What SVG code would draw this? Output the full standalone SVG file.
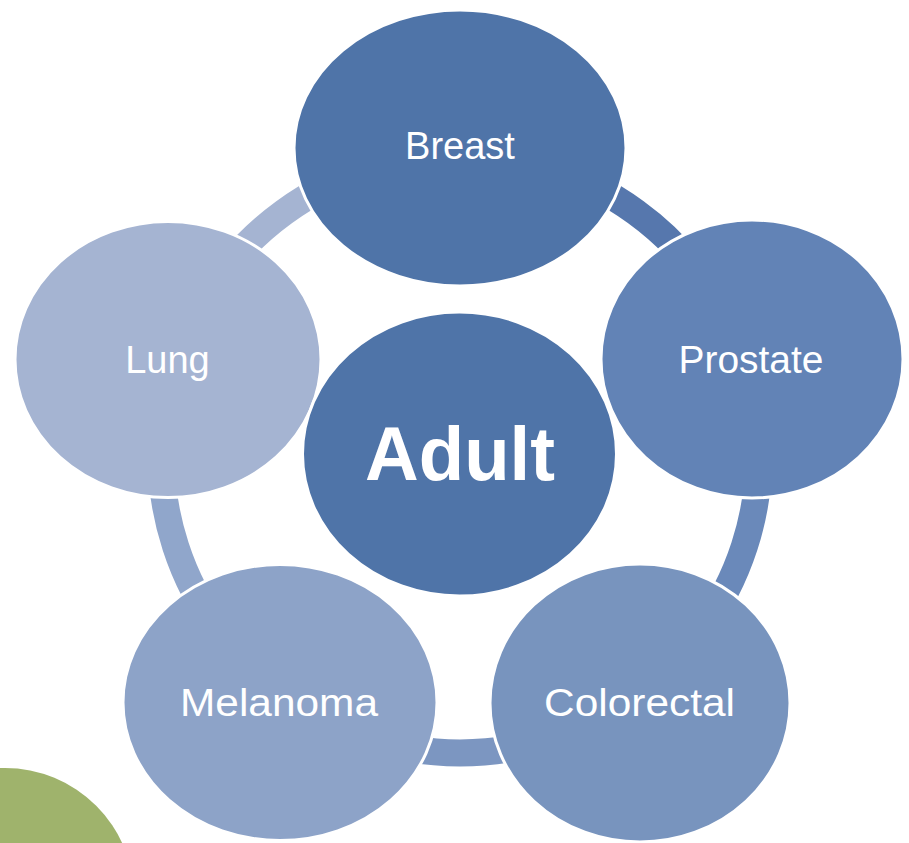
<svg xmlns="http://www.w3.org/2000/svg" width="909" height="843" viewBox="0 0 909 843">
<style>
.node{stroke:#ffffff;stroke-width:3}
.lbl{font-family:"Liberation Sans",Arial,sans-serif;font-size:38px;fill:#ffffff;text-anchor:middle}
.big{font-family:"Liberation Sans",Arial,sans-serif;font-size:76px;font-weight:bold;fill:#ffffff;text-anchor:middle}
.arc{fill:none;stroke-width:27}
</style>
<rect width="909" height="843" fill="#ffffff"/>
<circle id="deco" cx="5" cy="897" r="129" fill="#9FB36C"/>
<g id="connectors">
<path class="arc" stroke="#5677AD" d="M460,155 A299,299 0 0 1 744.4,361.6"/>
<path class="arc" stroke="#6A89BA" d="M744.4,361.6 A299,299 0 0 1 635.7,695.9"/>
<path class="arc" stroke="#7C96C1" d="M635.7,695.9 A299,299 0 0 1 284.3,695.9"/>
<path class="arc" stroke="#90A6CB" d="M284.3,695.9 A299,299 0 0 1 175.6,361.6"/>
<path class="arc" stroke="#A5B4D2" d="M175.6,361.6 A299,299 0 0 1 460,155"/>
</g>
<g id="breast">
<ellipse class="node" cx="460" cy="148" rx="166" ry="138" fill="#4F74A8"/>
<text class="lbl" x="460" y="159">Breast</text>
</g>
<g id="prostate">
<ellipse class="node" cx="752" cy="359" rx="151" ry="139" fill="#6283B6"/>
<text class="lbl" x="751" y="373" textLength="145" lengthAdjust="spacingAndGlyphs">Prostate</text>
</g>
<g id="colorectal">
<ellipse class="node" cx="640" cy="703" rx="150" ry="139" fill="#7894BE"/>
<text class="lbl" x="639.5" y="716" textLength="191" lengthAdjust="spacingAndGlyphs">Colorectal</text>
</g>
<g id="melanoma">
<ellipse class="node" cx="280" cy="702.5" rx="157" ry="138" fill="#8DA3C8"/>
<text class="lbl" x="279" y="716" textLength="198" lengthAdjust="spacingAndGlyphs">Melanoma</text>
</g>
<g id="lung">
<ellipse class="node" cx="168" cy="359.5" rx="153" ry="138" fill="#A5B4D2"/>
<text class="lbl" x="167.5" y="373">Lung</text>
</g>
<g id="adult">
<ellipse class="node" cx="459.5" cy="454" rx="157" ry="142" fill="#4F74A8"/>
<text class="big" x="460" y="480" textLength="190" lengthAdjust="spacingAndGlyphs">Adult</text>
</g>
</svg>
